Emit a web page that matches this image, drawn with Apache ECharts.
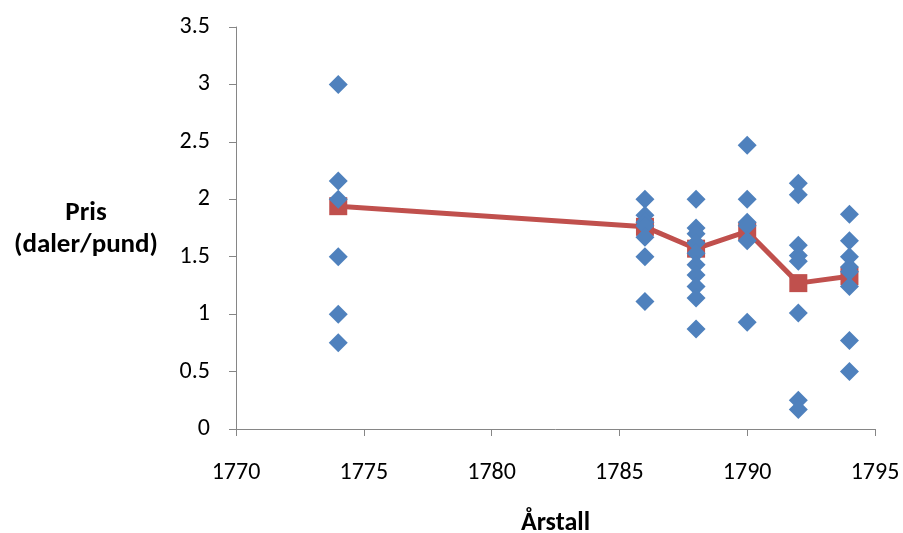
<!DOCTYPE html>
<html>
<head>
<meta charset="utf-8">
<script src="https://cdn.jsdelivr.net/npm/echarts@6/dist/echarts.min.js"></script>
<style>html,body{margin:0;padding:0;background:#fff}#c{width:903px;height:533px}</style>
</head>
<body>
<div id="c"></div>
<script>
var years = [1774, 1786, 1788, 1790, 1792, 1794];
var prices1774 = [3.0, 2.16, 2.0, 1.5, 1.0, 0.75];
var prices1786 = [2.0, 1.86, 1.8, 1.77, 1.67, 1.5, 1.11];
var prices1788 = [2.0, 1.75, 1.70, 1.62, 1.53, 1.43, 1.34, 1.24, 1.14, 0.87];
var prices1790 = [2.47, 2.0, 1.80, 1.77, 1.64, 0.93];
var prices1792 = [2.14, 2.04, 1.60, 1.51, 1.46, 1.01, 0.25, 0.17];
var prices1794 = [1.87, 1.64, 1.50, 1.41, 1.37, 1.24, 0.77, 0.50];
var means = [1.94, 1.76, 1.57, 1.72, 1.27, 1.33];
var xTicks = [1770, 1775, 1780, 1785, 1790, 1795];
var yTicks = [0, 0.5, 1, 1.5, 2, 2.5, 3, 3.5];
var xTitle = 'Årstall';
var yTitle = 'Pris\n(daler/pund)';

var groups = [prices1774, prices1786, prices1788, prices1790, prices1792, prices1794];
var scatterData = [];
groups.forEach(function (g, i) {
  g.forEach(function (v) { scatterData.push([years[i], v]); });
});
var meanData = years.map(function (y, i) { return [y, means[i]]; });

var font = 'Carlito, Lato, "Open Sans", sans-serif';
var axisColor = '#868686';
var chart = echarts.init(document.getElementById('c'));
chart.setOption({
  animation: false,
  grid: { left: 236, right: 28, top: 27, bottom: 104, containLabel: false, outerBoundsMode: 'none' },
  xAxis: {
    type: 'value', min: xTicks[0], max: xTicks[xTicks.length - 1], interval: 5,
    splitLine: { show: false },
    axisLine: { lineStyle: { color: axisColor, width: 1 } },
    axisTick: { show: true, length: 7, lineStyle: { color: axisColor } },
    axisLabel: { color: '#000', fontSize: 24, fontFamily: font, margin: 32,
      formatter: function (v) { return String(v); } },
    name: xTitle, nameLocation: 'middle', nameGap: 81,
    nameTextStyle: { color: '#000', fontSize: 26, fontWeight: 'bold', fontFamily: font }
  },
  yAxis: {
    type: 'value', min: yTicks[0], max: yTicks[yTicks.length - 1], interval: 0.5,
    splitLine: { show: false },
    axisLine: { show: true, lineStyle: { color: axisColor, width: 1 } },
    axisTick: { show: true, length: 7, lineStyle: { color: axisColor } },
    axisLabel: { color: '#000', fontSize: 24, fontFamily: font, margin: 26,
      formatter: function (v) { return String(v); } }
  },
  graphic: [{
    type: 'text', x: 86, y: 229,
    style: { text: yTitle, fill: '#000', font: 'bold 27px ' + font, textAlign: 'center', textVerticalAlign: 'middle', lineHeight: 32 }
  }],
  series: [{
    type: 'line', data: meanData, symbol: 'rect', symbolSize: 18,
    lineStyle: { color: '#C0504D', width: 5, opacity: 1 },
    itemStyle: { color: '#C0504D', opacity: 1 }, z: 2
  }, {
    type: 'scatter', data: scatterData, symbol: 'diamond', symbolSize: 19,
    itemStyle: { color: '#4F81BD', opacity: 1 }, z: 3
  }]
});
</script>
</body>
</html>
